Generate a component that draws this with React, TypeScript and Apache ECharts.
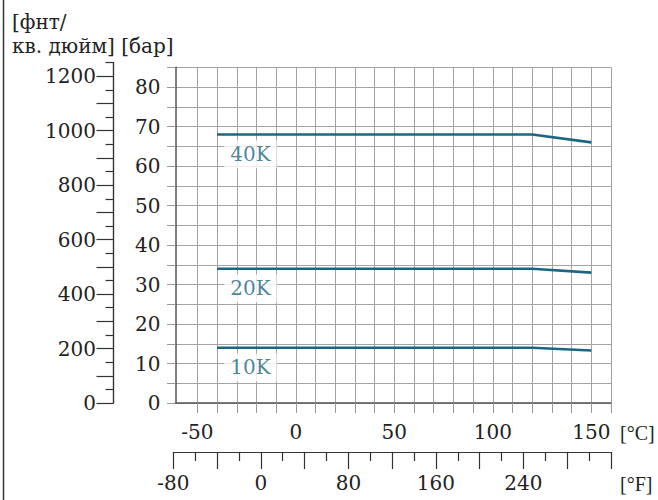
import React, { useEffect, useRef } from 'react';
import * as echarts from 'echarts';

// ---- data ----
const tempC = [-40, 120, 150];
const pressure40K = [68, 68, 66];
const pressure20K = [34, 34, 33];
const pressure10K = [14, 14, 13.3];
const seriesNames = ['40K', '20K', '10K'];
const labelTempC = [-23, -23, -23];
const labelBar = [63, 29, 9];

const cTicks = [-50, -40, -30, -20, -10, 0, 10, 20, 30, 40, 50, 60, 70, 80, 90, 100, 110, 120, 130, 140, 150, 160];
const cLabels = [-50, 0, 50, 100, 150];
const fLabels = [-80, 0, 80, 160, 240];
const psiMajorTicks = [0, 100, 200, 300, 400, 500, 600, 700, 800, 900, 1000, 1100, 1200];
const psiMinorTicks = [50, 150, 250, 350, 450, 550, 650, 750, 850, 950, 1050, 1150, 1250];
const psiLabels = [0, 200, 400, 600, 800, 1000, 1200];

const FONT = 'DejaVu Serif';
const UNIT_FONT = 'Liberation Serif';
const TEXT = '#222';
const TEAL = '#1b6682';
const GRID = '#a3a3a3';
const AXIS = '#555';

export default function App() {
  const ref = useRef<HTMLDivElement>(null);
  useEffect(() => {
    if (!ref.current) return;
    const chart = echarts.init(ref.current, null, { renderer: 'svg' });
    const lbl = { fontFamily: FONT, fontSize: 20, color: TEXT };
    const hiddenX = (gi: number) => ({ type: 'value', gridIndex: gi, show: false, min: 0, max: 1 });
    const hiddenY = (gi: number) => ({ type: 'value', gridIndex: gi, show: false, min: 0, max: 1 });
    const option: any = {
      animation: false,
      backgroundColor: '#fff',
      textStyle: { fontFamily: FONT },
      grid: [
        { left: 175.5, right: 47, top: 67.3, bottom: 97, outerBoundsMode: 'none' },
        { left: 173.3, right: 47, top: 440, height: 12, outerBoundsMode: 'none' },
        { left: 113.5, width: 1, top: 62.6, bottom: 97, outerBoundsMode: 'none' },
        { left: 113.5, width: 1, top: 62.6, bottom: 97, outerBoundsMode: 'none' },
      ],
      xAxis: [
        {
          type: 'value', gridIndex: 0, min: -61.1, max: 160,
          axisLine: { show: true, onZero: false, lineStyle: { color: AXIS, width: 1.5 } },
          axisTick: { show: true, customValues: cTicks, length: 10, lineStyle: { color: '#999' } },
          axisLabel: { ...lbl, customValues: cLabels, margin: 19, formatter: (v: number) => String(v) },
          splitLine: { show: true, lineStyle: { color: GRID, width: 1 } },
        },
        {
          type: 'value', gridIndex: 1, min: -80, max: 320, interval: 40,
          axisLine: { show: true, onZero: false, lineStyle: { color: '#333', width: 1.2 } },
          axisTick: { show: true, length: 17, lineStyle: { color: '#333', width: 1.2 } },
          minorTick: { show: true, splitNumber: 2, length: 9, lineStyle: { color: '#333', width: 1.2 } },
          axisLabel: { ...lbl, margin: 21, formatter: (v: number) => (fLabels.includes(v) ? String(v) : '') },
          splitLine: { show: false },
        },
        hiddenX(2),
        hiddenX(3),
      ],
      yAxis: [
        {
          type: 'value', gridIndex: 0, min: 0, max: 85, interval: 5,
          axisLine: { show: true, onZero: false, lineStyle: { color: AXIS, width: 1.5 } },
          axisTick: { show: true, length: 8.5, lineStyle: { color: '#999' } },
          axisLabel: { ...lbl, margin: 15, formatter: (v: number) => (v % 10 === 0 ? String(v) : '') },
          splitLine: { show: true, lineStyle: { color: GRID, width: 1 } },
        },
        hiddenY(1),
        {
          type: 'value', gridIndex: 2, min: 0, max: 1250,
          axisLine: { show: true, onZero: false, lineStyle: { color: '#333', width: 1.2 } },
          axisTick: { show: true, customValues: psiMajorTicks, length: 17, lineStyle: { color: '#333', width: 1.2 } },
          axisLabel: { ...lbl, customValues: psiLabels, margin: 17.5, formatter: (v: number) => String(v) },
          splitLine: { show: false },
        },
        {
          type: 'value', gridIndex: 3, min: 0, max: 1250,
          axisLine: { show: true, onZero: false, lineStyle: { color: '#333', width: 1.2 } },
          axisTick: { show: true, customValues: psiMinorTicks, length: 8, lineStyle: { color: '#333', width: 1.2 } },
          axisLabel: { show: false },
          splitLine: { show: false },
        },
      ],
      series: [
        ...[pressure40K, pressure20K, pressure10K].map((vals, i) => ({
          type: 'line',
          name: seriesNames[i],
          xAxisIndex: 0,
          yAxisIndex: 0,
          symbol: 'none',
          lineStyle: { color: TEAL, width: 2.6 },
          data: tempC.map((t, j) => [t, vals[j]]),
          z: 3,
        })),
        {
          type: 'scatter',
          xAxisIndex: 0,
          yAxisIndex: 0,
          symbolSize: 0,
          z: 4,
          data: seriesNames.map((n, i) => ({ value: [labelTempC[i], labelBar[i]], name: n })),
          label: {
            show: true,
            position: 'inside',
            formatter: (p: any) => p.name,
            fontFamily: FONT,
            fontSize: 20,
            color: TEAL,
            backgroundColor: '#fff',
            padding: [4, 6],
          },
        },
      ],
      graphic: [
        { type: 'line', shape: { x1: 3.5, y1: 0, x2: 3.5, y2: 500 }, style: { stroke: '#333', lineWidth: 1.5 } },
        { type: 'text', x: 12, y: 22, style: { text: '[фнт/', fontFamily: FONT, fontSize: 20, fill: TEXT, verticalAlign: 'middle' } },
        { type: 'text', x: 12, y: 46, style: { text: 'кв. дюйм] [бар]', fontFamily: FONT, fontSize: 20, fill: TEXT, verticalAlign: 'middle' } },
        { type: 'text', x: 620, y: 433, style: { text: '[°C]', fontFamily: UNIT_FONT, fontSize: 20, fill: TEXT, verticalAlign: 'middle' } },
        { type: 'text', x: 620, y: 484, style: { text: '[°F]', fontFamily: UNIT_FONT, fontSize: 20, fill: TEXT, verticalAlign: 'middle' } },
      ],
    };
    chart.setOption(option);
    return () => chart.dispose();
  }, []);
  return (
    <div
      ref={ref}
      style={{ position: 'fixed', left: 0, top: 0, width: 658, height: 500 }}
    />
  );
}
